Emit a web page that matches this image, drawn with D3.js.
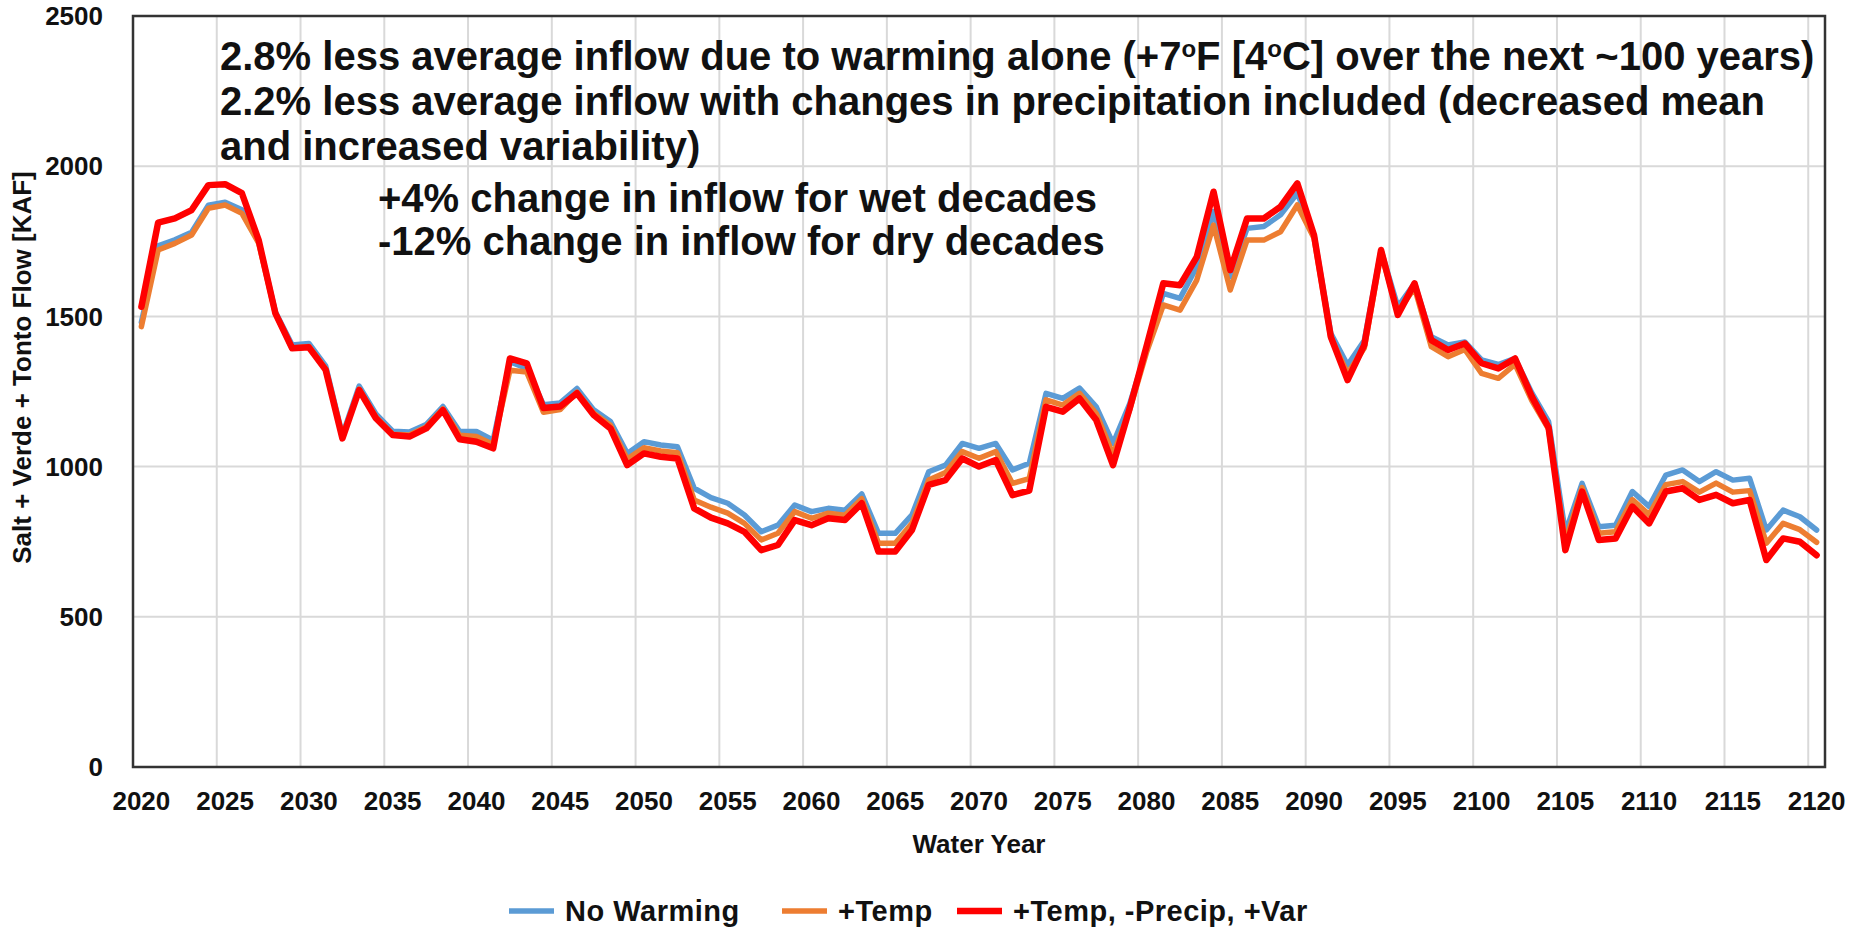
<!DOCTYPE html>
<html>
<head>
<meta charset="utf-8">
<script src="https://cdnjs.cloudflare.com/ajax/libs/d3/7.8.5/d3.min.js"></script>
<style>
    body { margin: 0; background: #fff; }
    text { font-family: "Liberation Sans", Arial, sans-serif; font-weight: bold; fill: #111; }
</style>
</head>
<body>
<div id="chart_area"></div>
<script>
// years 2020 .. 2120
var firstYear = 2020;
var lastYear = 2120;

var noWarming = [1480, 1735, 1755, 1780, 1870, 1880, 1855, 1750, 1515, 1405,
    1410, 1335, 1105, 1268, 1175, 1118, 1115, 1140, 1200, 1117,
    1117, 1088, 1349, 1327, 1206, 1212, 1260, 1189, 1150, 1044,
    1083, 1072, 1066, 928, 897, 878, 839, 783, 805, 872,
    850, 861, 855, 909, 778, 778, 839, 983, 1005, 1077,
    1061, 1077, 989, 1011, 1244, 1227, 1261, 1199, 1077, 1210,
    1390, 1577, 1560, 1665, 1849, 1632, 1793, 1799, 1838, 1910,
    1770, 1444, 1338, 1420, 1720, 1532, 1610, 1432, 1405, 1415,
    1355, 1340, 1360, 1245, 1150, 780, 944, 800, 805, 917,
    867, 972, 989, 950, 983, 955, 961, 789, 855, 833,
    789];

var plusTemp = [1466, 1721, 1743, 1771, 1860, 1871, 1843, 1744, 1510, 1394,
    1400, 1325, 1098, 1258, 1165, 1108, 1105, 1132, 1192, 1104,
    1100, 1074, 1321, 1315, 1181, 1190, 1248, 1178, 1138, 1025,
    1063, 1052, 1046, 889, 865, 845, 811, 756, 778, 850,
    828, 845, 838, 893, 745, 745, 811, 955, 980, 1050,
    1028, 1050, 944, 960, 1222, 1205, 1244, 1177, 1040, 1190,
    1380, 1538, 1521, 1621, 1804, 1588, 1754, 1754, 1782, 1871,
    1760, 1430, 1310, 1395, 1710, 1515, 1595, 1399, 1366, 1390,
    1310, 1294, 1340, 1220, 1125, 750, 930, 778, 783, 890,
    840, 940, 950, 915, 945, 915, 920, 745, 811, 790,
    748];

var plusTempPrecipVar = [1532, 1812, 1826, 1854, 1937, 1940, 1910, 1754, 1510, 1394,
    1397, 1322, 1094, 1255, 1161, 1105, 1100, 1127, 1188, 1091,
    1083, 1061, 1360, 1344, 1195, 1200, 1244, 1172, 1127, 1005,
    1044, 1033, 1027, 861, 830, 811, 783, 722, 739, 822,
    805, 828, 822, 878, 717, 717, 789, 939, 955, 1027,
    1000, 1022, 905, 920, 1199, 1183, 1227, 1155, 1005, 1195,
    1400, 1610, 1604, 1698, 1915, 1654, 1826, 1826, 1865, 1943,
    1770, 1432, 1288, 1405, 1721, 1505, 1610, 1421, 1388, 1410,
    1344, 1327, 1360, 1233, 1130, 722, 917, 756, 761, 867,
    811, 917, 928, 889, 906, 878, 889, 689, 761, 750,
    705];

var seriesNames = ["No Warming", "+Temp", "+Temp, -Precip, +Var"];
var seriesColors = ["#5b9bd5", "#ed7d31", "#ff0000"];
var yTicks = [0, 500, 1000, 1500, 2000, 2500];
var xTickYears = d3.range(2020, 2121, 5);

var noteLines = [
    ["2.8% less average inflow due to warming alone (+7", "o", "F [4", "o", "C] over the next ~100 years)"],
    ["2.2% less average inflow with changes in precipitation included (decreased mean"],
    ["and increased variability)"],
    ["+4% change in inflow for wet decades"],
    ["-12% change in inflow for dry decades"]
];

var width = 1849, height = 933;
var plotLeft = 133, plotRight = 1825, plotTop = 16, plotBottom = 767;

var svg = d3.select("#chart_area").append("svg")
    .attr("width", width)
    .attr("height", height);

var x = d3.scaleLinear().domain([firstYear, lastYear + 1]).range([plotLeft, plotRight]);
var y = d3.scaleLinear().domain([0, 2500]).range([plotBottom, plotTop]);

// grid
svg.append("g").selectAll("line")
    .data(yTicks.slice(1, -1))
    .enter().append("line")
    .attr("x1", plotLeft).attr("x2", plotRight)
    .attr("y1", function(d){ return y(d); })
    .attr("y2", function(d){ return y(d); })
    .attr("stroke", "#d9d9d9").attr("stroke-width", 2);

svg.append("g").selectAll("line")
    .data(xTickYears.slice(1))
    .enter().append("line")
    .attr("y1", plotTop).attr("y2", plotBottom)
    .attr("x1", function(d){ return x(d); })
    .attr("x2", function(d){ return x(d); })
    .attr("stroke", "#d9d9d9").attr("stroke-width", 2);

// frame
svg.append("rect")
    .attr("x", plotLeft).attr("y", plotTop)
    .attr("width", plotRight - plotLeft).attr("height", plotBottom - plotTop)
    .attr("fill", "none").attr("stroke", "#333").attr("stroke-width", 2.5);

// tick labels
svg.append("g").selectAll("text")
    .data(yTicks)
    .enter().append("text")
    .attr("x", 103)
    .attr("y", function(d){ return y(d); })
    .attr("dy", "0.35em")
    .attr("text-anchor", "end")
    .style("font-size", "26px")
    .text(function(d){ return d; });

svg.append("g").selectAll("text")
    .data(xTickYears)
    .enter().append("text")
    .attr("x", function(d){ return x(d + 0.5); })
    .attr("y", 810)
    .attr("text-anchor", "middle")
    .style("font-size", "26px")
    .text(function(d){ return d; });

svg.append("text")
    .attr("transform", "translate(31," + ((plotTop + plotBottom) / 2 - 24) + ") rotate(-90)")
    .attr("text-anchor", "middle")
    .style("font-size", "26px")
    .text("Salt + Verde + Tonto Flow [KAF]");

svg.append("text")
    .attr("x", (plotLeft + plotRight) / 2)
    .attr("y", 853)
    .attr("text-anchor", "middle")
    .style("font-size", "26px")
    .text("Water Year");

// lines
var years = d3.range(firstYear, lastYear + 1);
var allSeries = [noWarming, plusTemp, plusTempPrecipVar];
var line = d3.line()
    .x(function(d, i){ return x(years[i] + 0.5); })
    .y(function(d){ return y(d); });

svg.append("g").selectAll("path")
    .data(allSeries)
    .enter().append("path")
    .attr("d", line)
    .attr("fill", "none")
    .attr("stroke", function(d, i){ return seriesColors[i]; })
    .attr("stroke-width", function(d, i){ return i == 2 ? 6.5 : 5.5; })
    .attr("stroke-linejoin", "round")
    .attr("stroke-linecap", "round");

// notes
var noteX = [220, 220, 220, 378, 378];
var noteY = [70, 115, 160, 212, 255];
var notes = svg.append("g");
noteLines.forEach(function(parts, k){
    var t = notes.append("text")
        .attr("x", noteX[k])
        .attr("y", noteY[k])
        .style("font-size", "40px");
    parts.forEach(function(p){
        var span = t.append("tspan").text(p);
        if (p == "o") {
            span.attr("baseline-shift", "super").style("font-size", "24px");
        }
    });
});

// legend
var legendX = [509, 782, 957];
var legend = svg.append("g").selectAll("g")
    .data(seriesNames)
    .enter().append("g")
    .attr("transform", function(d, i){ return "translate(" + legendX[i] + ",911)"; });
legend.append("line")
    .attr("x1", 0).attr("x2", 45)
    .attr("stroke", function(d, i){ return seriesColors[i]; })
    .attr("stroke-width", function(d, i){ return i == 2 ? 6.5 : 5.5; });
legend.append("text")
    .attr("x", 56)
    .attr("dy", "0.35em")
    .style("font-size", "29px")
    .style("letter-spacing", "0.5px")
    .text(function(d){ return d; });
</script>
</body>
</html>
